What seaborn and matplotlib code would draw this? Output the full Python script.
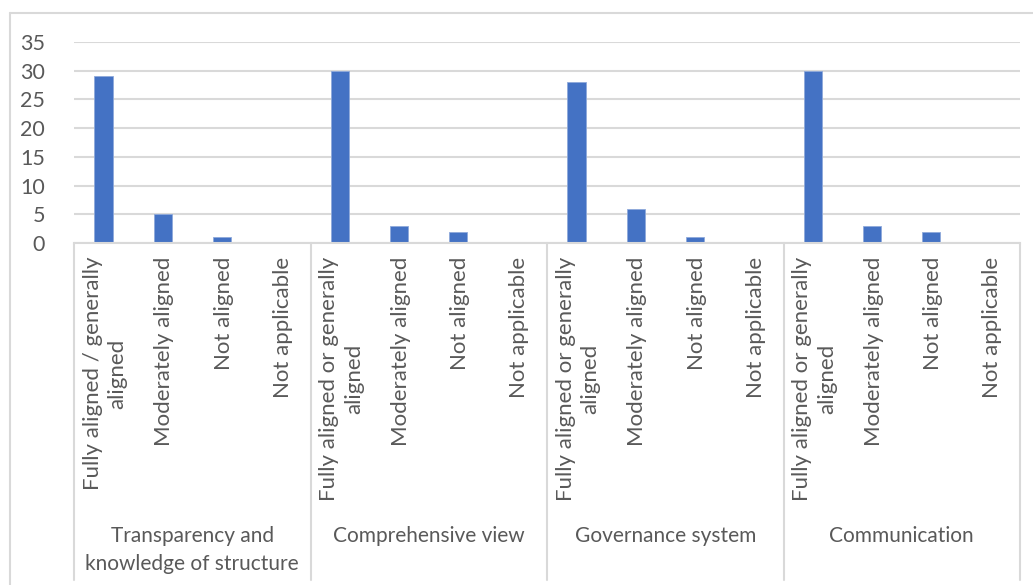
import numpy as np
import pandas as pd
import matplotlib
matplotlib.use("Agg")
import matplotlib.pyplot as plt
from matplotlib.lines import Line2D
import seaborn as sns

groups = ["Transparency and\nknowledge of structure", "Comprehensive view",
          "Governance system", "Communication"]
categories = [
    ["Fully aligned / generally\naligned", "Moderately aligned", "Not aligned", "Not applicable"],
    ["Fully aligned or generally\naligned", "Moderately aligned", "Not aligned", "Not applicable"],
    ["Fully aligned or generally\naligned", "Moderately aligned", "Not aligned", "Not applicable"],
    ["Fully aligned or generally\naligned", "Moderately aligned", "Not aligned", "Not applicable"],
]
values_transparency = [29, 5, 1, 0]
values_comprehensive = [30, 3, 2, 0]
values_governance = [28, 6, 1, 0]
values_communication = [30, 3, 2, 0]
y_ticks = [0, 5, 10, 15, 20, 25, 30, 35]

all_values = values_transparency + values_comprehensive + values_governance + values_communication
keys = [f"{g}|{i}" for g in range(len(groups)) for i in range(4)]
df = pd.DataFrame({"key": keys, "value": all_values})

sns.set_style("white")
plt.rcParams["font.family"] = ["Lato", "DejaVu Sans"]

W, H = 1033, 585
fig = plt.figure(figsize=(W / 100, H / 100), dpi=100)
left, right, top, bottom = 74, 1020, 42, 243
ax = fig.add_axes([left / W, (H - bottom) / H, (right - left) / W, (bottom - top) / H])

sns.barplot(data=df, x="key", y="value", order=keys, color="#4472C4",
            width=0.31, saturation=1, ax=ax, errorbar=None)
for p in ax.patches:
    p.set_edgecolor("#8EA9DB")
    p.set_linewidth(0.6)

grid_c = "#D9D9D9"
txt_c = "#595959"
ax.set_ylim(0, 35)
ax.set_xlim(-0.5, len(keys) - 0.5)
ax.set_yticks(y_ticks)
ax.set_yticklabels([str(t) for t in y_ticks], fontsize=15.5, color=txt_c)
ax.tick_params(axis="y", length=0, pad=21)
ax.set_xticks([])
ax.set_xlabel("")
ax.set_ylabel("")
ax.yaxis.grid(True, color=grid_c, linewidth=1.5)
ax.set_axisbelow(True)
for s in ["left", "right", "top"]:
    ax.spines[s].set_visible(False)
ax.spines["bottom"].set_color(grid_c)
ax.spines["bottom"].set_linewidth(1.5)

span = bottom - top
def yfrac(ypix):
    return (bottom - ypix) / span

tr = ax.get_xaxis_transform()
for gi, cats in enumerate(categories):
    for ci, lab in enumerate(cats):
        x = gi * 4 + ci
        ax.text(x + 0.03, yfrac(257), lab, rotation=90, ha="center", va="top",
                multialignment="center", fontsize=16, color=txt_c,
                transform=tr, linespacing=1.3)
    ax.text(gi * 4 + 1.5, yfrac(526), groups[gi], ha="center", va="top",
            multialignment="center", fontsize=15, color=txt_c,
            transform=tr, linespacing=1.5)

for xb in [-0.5, 3.5, 7.5, 11.5, 15.5]:
    ax.add_line(Line2D([xb, xb], [0, yfrac(580)], transform=tr, color=grid_c,
                       linewidth=1.5, clip_on=False))

# outer chart border
fig.add_artist(Line2D([10 / W, 1.0], [1 - 13 / H, 1 - 13 / H], transform=fig.transFigure,
                      color=grid_c, linewidth=1.5))
fig.add_artist(Line2D([10 / W, 10 / W], [0, 1 - 13 / H], transform=fig.transFigure,
                      color=grid_c, linewidth=1.5))

fig.savefig("out.png", dpi=100)
